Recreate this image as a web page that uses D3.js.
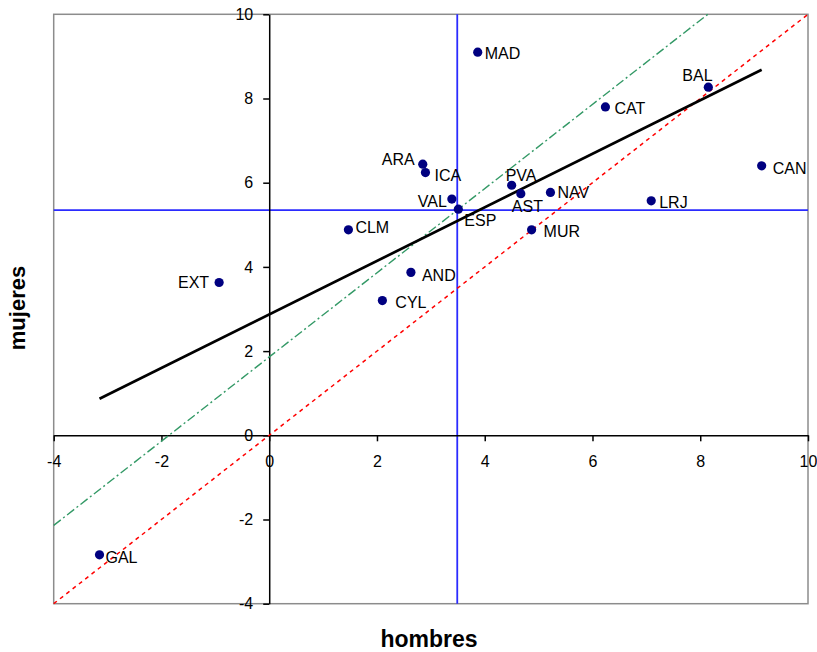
<!DOCTYPE html>
<html>
<head>
<meta charset="utf-8">
<script src="https://cdn.jsdelivr.net/npm/d3@7"></script>
<style>
  body { margin: 0; background: #fff; }
  text { font-family: "Liberation Sans", Arial, sans-serif; }
</style>
</head>
<body>
<script>
var w = 817, h = 652;

// data
var regions = ["MAD", "ARA", "ICA", "VAL", "PVA", "AST", "NAV", "CAT", "BAL",
               "CAN", "LRJ", "CLM", "EXT", "AND", "CYL", "MUR", "GAL", "ESP"];
var hombres = [3.87, 2.85, 2.90, 3.39, 4.50, 4.67, 5.22, 6.24, 8.15,
               9.14, 7.09, 1.47, -0.93, 2.63, 2.10, 4.87, -3.15, 3.51];
var mujeres = [9.10, 6.44, 6.24, 5.61, 5.94, 5.74, 5.77, 7.80, 8.27,
               6.40, 5.57, 4.88, 3.63, 3.87, 3.20, 4.88, -2.84, 5.37];
var ticks = [-4, -2, 0, 2, 4, 6, 8, 10];
var fitSlope = 0.636, fitIntercept = 2.87;   // black regression line
var greenShift = 1.86;                         // y = x + shift
var espX = 3.49, espY = 5.35;                  // blue reference lines

// label placement: [dx, dy, anchor]
var place = {
  MAD: [7, 1, "start"], ARA: [-8, -5, "end"], ICA: [9, 3, "start"],
  VAL: [-5, 2, "end"], PVA: [-6, -10, "start"], AST: [-9, 13, "start"],
  NAV: [7, 0, "start"], CAT: [9, 1, "start"], BAL: [-26, -12, "start"],
  CAN: [11, 2, "start"], LRJ: [8, 1, "start"], CLM: [7, -3, "start"],
  EXT: [-10, 0, "end"], AND: [11, 3, "start"], CYL: [13, 2, "start"],
  MUR: [12, 1, "start"], GAL: [6, 2, "start"], ESP: [6, 11, "start"]
};

var data = regions.map(function (r, i) { return { name: r, x: hombres[i], y: mujeres[i] } });

var x = d3.scaleLinear().domain([-4, 10]).range([53.7, 808]);
var y = d3.scaleLinear().domain([-4, 10]).range([603.7, 14.3]);

var svg = d3.select("body").append("svg")
    .attr("width", w)
    .attr("height", h)

// plot frame
svg.append("rect")
    .attr("x", x(-4)).attr("y", y(10))
    .attr("width", x(10) - x(-4)).attr("height", y(-4) - y(10))
    .attr("fill", "none").attr("stroke", "#8c8c8c").attr("stroke-width", 1.5)

// blue reference lines through ESP
svg.append("line")
    .attr("x1", x(-4)).attr("x2", x(10)).attr("y1", y(espY)).attr("y2", y(espY))
    .attr("stroke", "#2b2bff").attr("stroke-width", 1.8)
svg.append("line")
    .attr("x1", x(espX)).attr("x2", x(espX)).attr("y1", y(10)).attr("y2", y(-4))
    .attr("stroke", "#2b2bff").attr("stroke-width", 1.8)

// axes crossing at zero
var fmt = function (d) { return String(d) };
svg.append("g")
    .attr("transform", "translate(" + x(0) + ",0)")
    .call(d3.axisLeft(y).tickValues(ticks).tickFormat(fmt).tickSize(6).tickSizeOuter(0).tickPadding(10))
svg.append("g")
    .attr("transform", "translate(0," + y(0) + ")")
    .call(d3.axisBottom(x).tickValues(ticks).tickFormat(fmt).tickSize(6).tickSizeOuter(0).tickPadding(14))

svg.selectAll(".domain").attr("stroke", "#000").attr("stroke-width", 1.5)
svg.selectAll(".tick line").attr("stroke", "#000").attr("stroke-width", 1.5)
svg.selectAll(".tick").selectAll("text")
    .attr("font-family", "'Liberation Sans', Arial, sans-serif")
    .attr("font-size", 16)
    .style("font-size", "16px")
    .attr("fill", "#000")

// y = x
svg.append("line")
    .attr("x1", x(-4)).attr("y1", y(-4)).attr("x2", x(10)).attr("y2", y(10))
    .attr("stroke", "#ff0000").attr("stroke-width", 1.5).attr("stroke-dasharray", "4,4")

// y = x + shift
var gx0 = -4, gx1 = 10 - greenShift;
svg.append("line")
    .attr("x1", x(gx0)).attr("y1", y(gx0 + greenShift))
    .attr("x2", x(gx1)).attr("y2", y(gx1 + greenShift))
    .attr("stroke", "#339966").attr("stroke-width", 1.4).attr("stroke-dasharray", "9,3,2,3")

// regression line over the regions' range
var xmin = d3.min(hombres), xmax = d3.max(hombres);
svg.append("line")
    .attr("x1", x(xmin)).attr("y1", y(fitIntercept + fitSlope * xmin))
    .attr("x2", x(xmax)).attr("y2", y(fitIntercept + fitSlope * xmax))
    .attr("stroke", "#000").attr("stroke-width", 2.7)

// points
svg.selectAll(".pt").data(data).enter().append("circle")
    .attr("class", "pt")
    .attr("cx", function (d) { return x(d.x) })
    .attr("cy", function (d) { return y(d.y) })
    .attr("r", 4.6)
    .attr("fill", "#000080")

// labels
svg.selectAll(".lbl").data(data).enter().append("text")
    .attr("class", "lbl")
    .attr("x", function (d) { return x(d.x) + place[d.name][0] })
    .attr("y", function (d) { return y(d.y) + place[d.name][1] })
    .attr("dy", "0.36em")
    .attr("text-anchor", function (d) { return place[d.name][2] })
    .style("font-size", "16px")
    .text(function (d) { return d.name })

// axis titles
svg.append("text")
    .attr("x", 429).attr("y", 646.5)
    .attr("text-anchor", "middle")
    .style("font-size", "23px").style("font-weight", "bold")
    .text("hombres")
svg.append("text")
    .attr("transform", "translate(25,308) rotate(-90)")
    .attr("text-anchor", "middle")
    .style("font-size", "22px").style("font-weight", "bold")
    .text("mujeres")
</script>
</body>
</html>
